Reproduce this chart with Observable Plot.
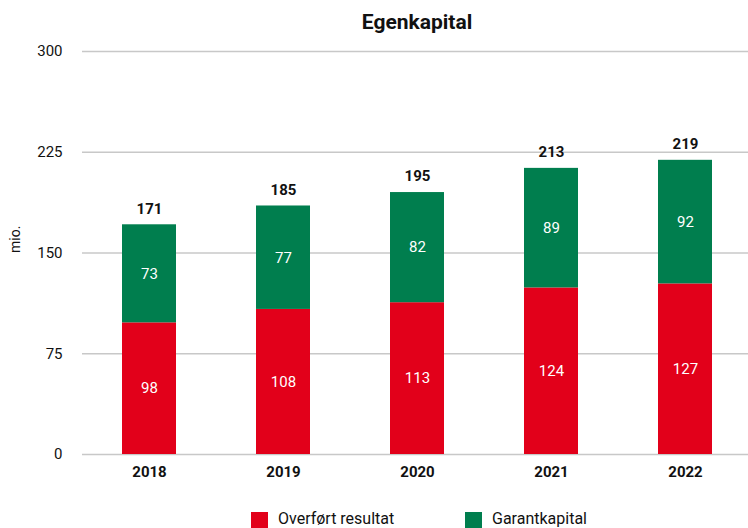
<!DOCTYPE html>
<html>
<head>
<meta charset="utf-8">
<script src="https://cdn.jsdelivr.net/npm/d3@7"></script>
<script src="https://cdn.jsdelivr.net/npm/@observablehq/plot@0.6"></script>
<style>
  body { margin: 0; background: #fff; font-family: Roboto, "Open Sans", sans-serif; width: 748px; height: 528px; overflow: hidden; }
  #title { height: 40px; position: relative; }
  #title span { position: absolute; left: 417px; top: 22px; transform: translate(-50%, -50%); font-weight: 700; font-size: 21px; color: #111; white-space: nowrap; }
  #legend { position: relative; height: 38px; }
  .item { position: absolute; top: 20px; display: flex; align-items: flex-start; font-size: 16px; color: #111; white-space: nowrap; }
  .sw { width: 17px; height: 17px; margin-right: 10px; margin-top: 2px; }
</style>
</head>
<body>
<div id="title"><span>Egenkapital</span></div>
<div id="chart"></div>
<div id="legend"></div>
<script>
const years = ["2018", "2019", "2020", "2021", "2022"];
const overfort = [98, 108, 113, 124, 127];
const garant = [73, 77, 82, 89, 92];
const totals = [171, 185, 195, 213, 219];
const seriesNames = ["Overført resultat", "Garantkapital"];
const colors = ["#e2001a", "#007e4e"];
const yTicks = [0, 75, 150, 225, 300];

const data = [];
years.forEach((y, i) => {
  data.push({year: y, series: seriesNames[0], value: overfort[i]});
  data.push({year: y, series: seriesNames[1], value: garant[i]});
});
const totalData = years.map((y, i) => ({year: y, total: totals[i]}));

const chart = Plot.plot({
  width: 748,
  height: 450,
  marginTop: 11,
  marginBottom: 36,
  marginLeft: 82,
  marginRight: 0,
  style: {fontFamily: "Roboto, 'Open Sans', sans-serif", fontSize: "15px", color: "#111"},
  x: {domain: years, range: [80, 754], paddingInner: 0.6, paddingOuter: 0.305, label: null},
  y: {domain: [0, 300], ticks: yTicks, label: null},
  color: {domain: seriesNames, range: colors},
  marks: [
    Plot.gridY(yTicks, {stroke: "#c8c8c8", strokeOpacity: 1, strokeWidth: 1.5}),
    Plot.barY(data, Plot.stackY({x: "year", y: "value", fill: "series", order: seriesNames})),
    Plot.text(data, Plot.stackY({x: "year", y: "value", z: "series", order: seriesNames, text: d => String(d.value), fill: "white", fontSize: 15})),
    Plot.text(totalData, {x: "year", y: "total", text: d => String(d.total), dy: -16, fontWeight: "bold", fontSize: 15, fill: "#111"}),
    Plot.axisY(yTicks, {tickSize: 0, tickPadding: 20, fontSize: 15, label: null}),
    Plot.axisX({tickSize: 0, tickPadding: 12, fontWeight: "bold", fontSize: 15, label: null}),
    Plot.text(["mio."], {frameAnchor: "left", dx: -67, dy: 0, rotate: -90, fontSize: 14, fill: "#111", y: () => 150})
  ]
});
document.getElementById("chart").appendChild(chart);

const legend = document.getElementById("legend");
const lx = [251, 465];
seriesNames.forEach((s, i) => {
  const it = document.createElement("div");
  it.className = "item";
  it.style.left = lx[i] + "px";
  it.innerHTML = `<div class="sw" style="background:${colors[i]}"></div><span style="line-height:18px">${s}</span>`;
  legend.appendChild(it);
});
</script>
</body>
</html>
